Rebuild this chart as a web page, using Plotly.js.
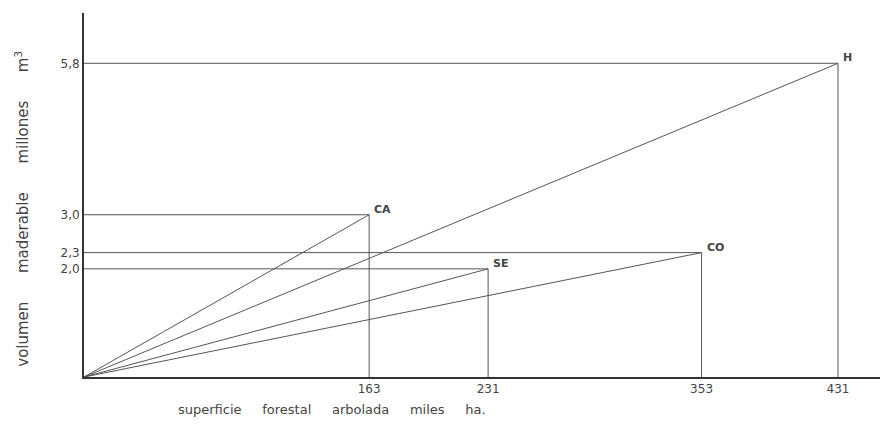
<!DOCTYPE html>
<html>
<head>
<meta charset="utf-8">
<script src="https://cdn.plot.ly/plotly-3.0.1.min.js"></script>
<style>html,body{margin:0;padding:0;background:#fff;}#chart{width:891px;height:426px;}</style>
</head>
<body>
<div id="chart"></div>
<script>
const regions = ['CA', 'SE', 'CO', 'H'];
const superficie = [163, 231, 353, 431];
const volumen = [3.0, 2.0, 2.3, 5.8];
const xTickLabels = ['163', '231', '353', '431'];
const yTickLabels = ['3,0', '2,0', '2,3', '5,8'];

const lineColor = '#555';
const textColor = '#444';
const font = 'DejaVu Sans, sans-serif';
const gap = '&nbsp;&nbsp;&nbsp;&nbsp;&nbsp;';
const gapY = '&nbsp;&nbsp;&nbsp;&nbsp;&nbsp;&nbsp;';

const traces = regions.map((r, i) => {
  const s = superficie[i], v = volumen[i];
  return {
    type: 'scatter', mode: 'lines', name: r, hoverinfo: 'skip',
    x: [0, s, s, null, 0, s],
    y: [0, v, 0, null, v, v],
    line: {color: lineColor, width: 1},
    showlegend: false
  };
});

const annotations = regions.map((r, i) => ({
  x: superficie[i], y: volumen[i], xref: 'x', yref: 'y',
  text: r, showarrow: false, xanchor: 'left', yanchor: 'bottom',
  xshift: 3, yshift: -3,
  font: {family: font, size: 11, color: textColor, weight: 'bold'}
}));
annotations.push({
  xref: 'paper', yref: 'paper', x: 0.1156, y: -0.062, xanchor: 'left', yanchor: 'top',
  text: ['superficie', 'forestal', 'arbolada', 'miles', 'ha.'].join(gap),
  showarrow: false, font: {family: font, size: 13, color: textColor}
});
annotations.push({
  xref: 'paper', yref: 'paper', x: -0.078, y: 0.462, xanchor: 'center', yanchor: 'middle',
  text: ['volumen', 'maderable', 'millones', 'm<sup>3</sup>'].join(gapY),
  textangle: -90, showarrow: false, font: {family: font, size: 15, color: textColor}
});

const layout = {
  width: 891, height: 426,
  margin: {l: 84, r: 11, t: 13, b: 49},
  paper_bgcolor: '#fff', plot_bgcolor: '#fff',
  xaxis: {
    range: [0, 455], showgrid: false, zeroline: false,
    showline: true, linecolor: '#333', linewidth: 2,
    tickmode: 'array', tickvals: superficie, ticktext: xTickLabels,
    ticks: '', ticklen: 0,
    tickfont: {family: font, size: 12, color: textColor}
  },
  yaxis: {
    range: [0, 6.73], showgrid: false, zeroline: false,
    showline: true, linecolor: '#333', linewidth: 2,
    tickmode: 'array', tickvals: volumen, ticktext: yTickLabels,
    ticks: '', ticklen: 0,
    tickfont: {family: font, size: 12, color: textColor}
  },
  annotations: annotations
};

Plotly.newPlot('chart', traces, layout, {displayModeBar: false, staticPlot: true});
</script>
</body>
</html>
